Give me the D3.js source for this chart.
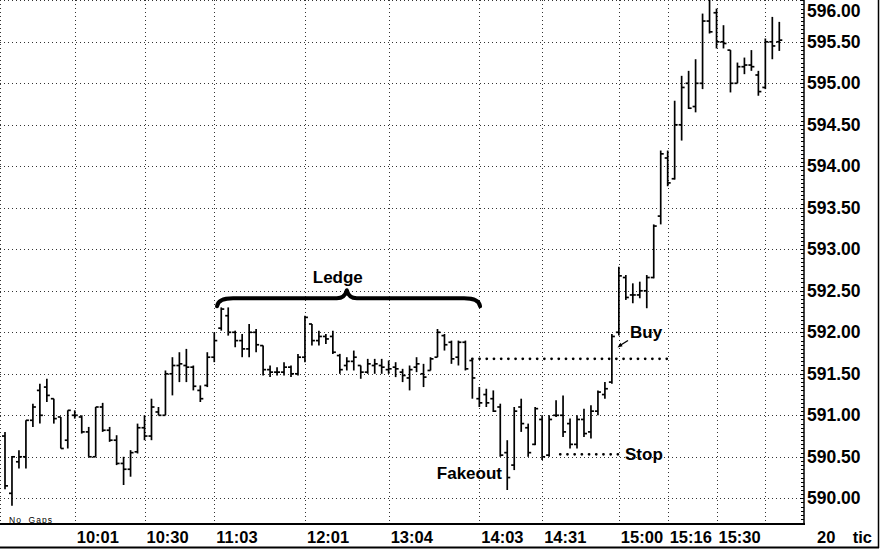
<!DOCTYPE html>
<html>
<head>
<meta charset="utf-8">
<script src="https://cdn.jsdelivr.net/npm/d3@7/dist/d3.min.js"></script>
<style>
  html, body { margin: 0; padding: 0; background: #fff; }
  svg { display: block; }
  text { font-family: "Liberation Sans", Arial, Helvetica, sans-serif; fill: #000; }
</style>
</head>
<body>
<svg id="chart" width="881" height="549"></svg>
<script>
// ---- Data (20-tick OHLC bars) ----
const highs = [
  590.80,590.51,590.58,590.94,591.14,591.38,591.44,591.20,590.98,591.06,
  591.06,591.00,590.86,591.10,591.15,590.86,590.76,590.50,590.58,590.90,
  591.00,591.20,591.10,591.54,591.70,591.76,591.80,591.60,591.36,591.76,
  592.00,592.30,592.30,592.02,591.98,592.10,592.04,591.84,591.60,591.58,
  591.64,591.60,591.74,592.20,592.10,592.02,591.98,592.02,591.74,591.70,
  591.78,591.60,591.68,591.68,591.68,591.66,591.64,591.56,591.60,591.70,
  591.62,591.70,592.04,591.98,591.90,591.90,591.90,591.68,591.34,591.32,
  591.30,591.14,590.70,591.10,591.20,590.90,591.10,591.00,591.00,591.18,
  591.24,590.96,591.00,591.08,591.12,591.30,591.40,591.98,592.79,592.69,
  592.59,592.61,592.69,593.30,594.19,594.19,594.79,595.09,595.15,595.29,
  595.84,596.02,595.90,595.70,595.40,595.25,595.31,595.40,595.15,595.54,
  595.80,595.74
];
const lows = [
  590.11,589.91,590.36,590.36,590.86,590.90,591.16,590.90,590.60,590.60,
  590.96,590.78,590.50,590.50,590.80,590.68,590.40,590.16,590.26,590.54,
  590.70,590.70,591.00,591.00,591.24,591.40,591.40,591.30,591.16,591.34,
  591.64,592.02,591.96,591.82,591.70,591.70,591.76,591.48,591.46,591.48,
  591.48,591.46,591.48,591.64,591.84,591.84,591.86,591.74,591.50,591.54,
  591.54,591.44,591.50,591.50,591.50,591.50,591.46,591.40,591.30,591.52,
  591.34,591.54,591.70,591.78,591.62,591.60,591.54,591.20,591.10,591.10,
  591.04,590.50,590.10,590.34,590.80,590.50,590.64,590.46,590.50,590.98,
  590.74,590.60,590.60,590.74,590.72,591.00,591.20,591.38,591.96,592.39,
  592.35,592.41,592.29,592.65,593.30,593.76,593.84,594.31,594.69,594.65,
  594.93,595.60,595.42,595.42,594.89,595.00,595.11,595.15,594.85,594.93,
  595.29,595.39
];
const opens = [
  590.75,590.06,590.44,590.50,590.94,591.30,591.34,591.20,590.98,590.70,
  591.00,590.98,590.80,590.50,591.10,590.82,590.70,590.42,590.35,590.56,
  590.85,590.75,591.04,591.00,591.50,591.60,591.60,591.58,591.30,591.36,
  591.70,592.05,592.20,592.00,591.90,591.80,592.00,591.84,591.55,591.52,
  591.52,591.58,591.50,591.70,592.10,591.90,591.95,591.95,591.72,591.60,
  591.65,591.60,591.52,591.60,591.60,591.55,591.58,591.52,591.45,591.58,
  591.50,591.54,591.70,591.96,591.88,591.70,591.88,591.66,591.20,591.25,
  591.20,591.10,590.55,590.40,591.10,590.85,590.65,590.95,590.52,591.00,
  591.00,590.90,590.65,590.95,590.80,591.05,591.25,591.40,592.00,592.66,
  592.45,592.45,592.50,592.66,593.40,594.10,593.85,594.50,595.00,594.72,
  595.00,595.75,595.85,595.50,595.40,595.00,595.20,595.22,595.10,594.95,
  595.50,595.50
];
const closes = [
  590.15,590.50,590.50,590.94,591.10,591.00,591.24,590.96,590.60,591.06,
  591.00,590.80,590.50,591.10,590.82,590.70,590.42,590.35,590.55,590.85,
  590.75,591.10,591.00,591.50,591.60,591.62,591.58,591.35,591.20,591.70,
  591.90,592.28,592.00,591.90,591.80,592.00,591.85,591.55,591.52,591.52,
  591.58,591.50,591.70,592.18,591.90,591.95,591.92,591.76,591.55,591.65,
  591.70,591.52,591.62,591.62,591.58,591.56,591.56,591.48,591.55,591.62,
  591.46,591.68,592.00,591.85,591.68,591.88,591.56,591.45,591.15,591.15,
  591.05,590.52,590.25,591.05,590.90,590.55,591.08,590.50,590.95,591.00,
  590.80,590.65,590.95,590.78,591.05,591.28,591.32,591.95,592.68,592.42,
  592.45,592.50,592.66,593.28,594.15,593.80,594.50,594.95,594.70,595.00,
  595.75,595.62,595.50,595.48,595.00,595.20,595.22,595.20,594.90,595.50,
  595.45,595.52
];

// Time labels at bar indices (vertical grid lines)
const gridIdx    = [10, 20, 30, 43, 55, 68, 77, 88, 95, 102, 109];
const timeLabels = ["10:01","10:30","11:03","12:01","13:04","14:03","14:31","15:00","15:16","15:30",""];

// Price axis
const priceTicks = [590.00,590.50,591.00,591.50,592.00,592.50,593.00,593.50,594.00,594.50,595.00,595.50,596.00];

// Annotations (price levels / bar index spans)
const buyLevel  = { price: 591.68, from: 67.0, to: 95.3 };
const stopLevel = { price: 590.53, from: 79.6, to: 88.5 };
const ledgeSpan = { from: 30.4, mid: 49.0, to: 68.1, price: 592.41 };

// ---- Layout ----
const svg = d3.select("#chart");
const plotRight = 804, plotBottom = 524;

const x = d3.scaleLinear().domain([0, highs.length - 1]).range([5, 779.3]);
const y = d3.scaleLinear().domain([590, 596]).range([498.3, 0.3]);

const font = '"Liberation Sans", Arial, Helvetica, sans-serif';

// Grid
const grid = svg.append("g").attr("stroke", "#333").attr("stroke-width", 1)
  .attr("stroke-dasharray", "1,3");
grid.selectAll("line.h").data(priceTicks).join("line")
  .attr("x1", 0).attr("x2", plotRight)
  .attr("y1", d => Math.round(y(d)) + 0.5).attr("y2", d => Math.round(y(d)) + 0.5);
grid.selectAll("line.v").data(gridIdx).join("line")
  .attr("x1", d => Math.round(x(d)) + 0.5).attr("x2", d => Math.round(x(d)) + 0.5)
  .attr("y1", 0).attr("y2", plotBottom);
grid.append("line").attr("x1", 0.5).attr("x2", 0.5).attr("y1", 0).attr("y2", plotBottom);

// Right price axis with minor ticks
const axis = d3.axisRight(y).tickValues(priceTicks).tickFormat(d3.format(".2f")).tickSize(0).tickPadding(3);
const axG = svg.append("g").attr("transform", `translate(${plotRight},0)`).call(axis);
axG.select(".domain").remove();
axG.selectAll("text").attr("font-family", font).attr("font-size", 17.5)
  .attr("font-weight", "bold").attr("fill", "#000");
// top label sits at the very edge: nudge it inside the view
axG.selectAll(".tick").filter(d => d === 596).select("text").attr("dy", "0").attr("y", 16);

const minor = d3.range(0, 121).map(i => 590 + i * 0.05).concat(d3.range(1, 6).map(i => 590 - i * 0.05));
svg.append("g").attr("stroke", "#000").attr("stroke-width", 1)
  .selectAll("line").data(minor).join("line")
  .attr("x1", d => plotRight - (Math.abs((d * 2) - Math.round(d * 2)) < 1e-6 ? 4 : 3))
  .attr("x2", plotRight)
  .attr("y1", d => Math.round(y(d)) + 0.5).attr("y2", d => Math.round(y(d)) + 0.5);

// Frame lines
svg.append("line").attr("x1", plotRight).attr("x2", plotRight).attr("y1", 0).attr("y2", plotBottom)
  .attr("stroke", "#000").attr("stroke-width", 1.5);
svg.append("line").attr("x1", 0).attr("x2", plotRight + 1).attr("y1", plotBottom).attr("y2", plotBottom)
  .attr("stroke", "#000").attr("stroke-width", 2);
svg.append("line").attr("x1", 0).attr("x2", 879).attr("y1", 547.5).attr("y2", 547.5)
  .attr("stroke", "#000").attr("stroke-width", 2);
svg.append("line").attr("x1", 878.5).attr("x2", 878.5).attr("y1", 0).attr("y2", 548)
  .attr("stroke", "#000").attr("stroke-width", 1.5);

// Time axis labels (left-aligned at grid lines)
svg.append("g").selectAll("text").data(gridIdx).join("text")
  .attr("x", d => x(d) + 2).attr("y", 543)
  .attr("font-size", 16.5).attr("font-weight", "bold")
  .text((d, i) => timeLabels[i]);

svg.append("text").attr("x", 817).attr("y", 543).attr("font-size", 16.5).attr("font-weight", "bold").text("20");
svg.append("text").attr("x", 872).attr("y", 543).attr("text-anchor", "end").attr("font-size", 16.5).attr("font-weight", "bold").text("tic");

svg.append("text").attr("x", 9).attr("y", 523).attr("font-size", 8.5)
  .attr("letter-spacing", 1).text("No  Gaps").style("white-space", "pre");

// OHLC bars
const bars = svg.append("g").attr("stroke", "#000").attr("stroke-width", 1.7).attr("fill", "none");
const idx = d3.range(highs.length);
bars.selectAll("line.hl").data(idx).join("line")
  .attr("x1", i => x(i)).attr("x2", i => x(i))
  .attr("y1", i => y(highs[i])).attr("y2", i => y(lows[i]));
bars.selectAll("line.o").data(idx).join("line")
  .attr("x1", i => x(i) - 3).attr("x2", i => x(i))
  .attr("y1", i => y(opens[i])).attr("y2", i => y(opens[i]));
bars.selectAll("line.c").data(idx).join("line")
  .attr("x1", i => x(i)).attr("x2", i => x(i) + 3)
  .attr("y1", i => y(closes[i])).attr("y2", i => y(closes[i]));

// Buy / Stop dotted levels
[buyLevel, stopLevel].forEach(l => {
  svg.append("line")
    .attr("x1", x(l.from)).attr("x2", x(l.to))
    .attr("y1", y(l.price)).attr("y2", y(l.price))
    .attr("stroke", "#000").attr("stroke-width", 2.8)
    .attr("stroke-linecap", "round").attr("stroke-dasharray", "0,7.2");
});

// Ledge brace
{
  const x0 = x(ledgeSpan.from), xm = x(ledgeSpan.mid), x1 = x(ledgeSpan.to), yb = y(ledgeSpan.price);
  const p = `M${x0},${yb + 8} Q${x0 + 1},${yb} ${x0 + 16},${yb} L${xm - 10},${yb} ` +
            `Q${xm - 2},${yb} ${xm},${yb - 8} Q${xm + 2},${yb} ${xm + 10},${yb} ` +
            `L${x1 - 16},${yb} Q${x1 - 1},${yb} ${x1},${yb + 8}`;
  svg.append("path").attr("d", p).attr("fill", "none").attr("stroke", "#000")
    .attr("stroke-width", 4).attr("stroke-linecap", "round").attr("stroke-linejoin", "round");
}

const ann = svg.append("g").attr("font-size", 17).attr("font-weight", "bold");
ann.append("text").attr("x", x(ledgeSpan.mid) - 9).attr("y", 283).attr("text-anchor", "middle").text("Ledge");
ann.append("text").attr("x", 630).attr("y", 338).text("Buy");
ann.append("text").attr("x", 625).attr("y", 460).text("Stop");
ann.append("text").attr("x", 502).attr("y", 479).attr("text-anchor", "end").text("Fakeout");

// Buy arrow
svg.append("line").attr("x1", 628).attr("y1", 340.5).attr("x2", 620).attr("y2", 345.5)
  .attr("stroke", "#000").attr("stroke-width", 1.4);
svg.append("path").attr("d", "M617.5,347.5 L620.5,342.8 L622.6,346.3 Z").attr("fill", "#000");
</script>
</body>
</html>
